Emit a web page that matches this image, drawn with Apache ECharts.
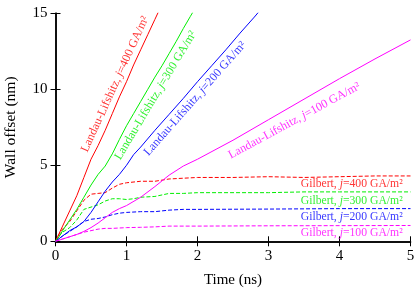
<!DOCTYPE html>
<html>
<head>
<meta charset="utf-8">
<script src="https://cdn.jsdelivr.net/npm/echarts@6/dist/echarts.min.js"></script>
<style>html,body{margin:0;padding:0;background:#fff}#c{width:415px;height:288px}</style>
</head>
<body>
<div id="c"></div>
<script>
// ---- data (time ns, wall offset nm) ----
const xTicks = [0, 1, 2, 3, 4, 5];
const yTicks = [0, 5, 10, 15];
const currents = [400, 300, 200, 100];

const llJ400 = [[0,0],[0.05,0.5],[0.1,1.0],[0.2,2.0],[0.3,3.0],[0.4,4.2],[0.5,5.4],[0.6,6.3],[0.7,7.3],[0.8,8.4],[0.9,9.5],[1.0,10.5],[1.1,11.6],[1.2,12.6],[1.3,13.6],[1.4,14.6],[1.46,15.2]];
const llJ300 = [[0,0],[0.05,0.3],[0.1,0.7],[0.2,1.4],[0.3,2.1],[0.4,2.9],[0.5,3.7],[0.6,4.4],[0.7,4.95],[0.8,5.75],[0.9,6.7],[1.0,7.6],[1.1,8.4],[1.2,9.2],[1.3,10.0],[1.4,10.8],[1.5,11.55],[1.6,12.35],[1.7,13.15],[1.8,14.0],[1.9,14.8],[1.95,15.2]];
const llJ200 = [[0,0],[0.1,0.35],[0.2,0.7],[0.3,0.95],[0.4,1.3],[0.5,1.9],[0.6,2.6],[0.7,3.3],[0.8,3.9],[0.9,4.4],[1.0,5.0],[1.1,5.7],[1.2,6.2],[1.4,7.3],[1.6,8.35],[1.8,9.4],[2.0,10.5],[2.2,11.55],[2.4,12.6],[2.6,13.7],[2.8,14.75],[2.9,15.3]];
const llJ100 = [[0,0],[0.1,0.15],[0.2,0.3],[0.3,0.45],[0.4,0.65],[0.5,0.9],[0.6,1.2],[0.7,1.55],[0.8,1.9],[0.9,2.15],[1.0,2.35],[1.2,2.9],[1.4,3.6],[1.6,4.35],[1.8,4.95],[2.0,5.4],[2.5,6.65],[3.0,8.0],[3.5,9.35],[4.0,10.7],[4.5,12.0],[5.0,13.25]];

const gJ400 = [[0,0],[0.05,0.45],[0.1,0.8],[0.2,1.3],[0.3,2.0],[0.4,2.7],[0.5,3.1],[0.6,3.15],[0.7,3.2],[0.8,3.5],[0.9,3.75],[1.0,3.85],[1.2,3.95],[1.4,3.95],[1.6,4.1],[1.8,4.15],[2.0,4.2],[2.5,4.2],[3.0,4.25],[3.5,4.2],[4.0,4.25],[4.5,4.3],[5.0,4.3]];
const gJ300 = [[0,0],[0.05,0.35],[0.1,0.6],[0.2,0.9],[0.3,1.4],[0.4,2.1],[0.5,2.25],[0.6,2.4],[0.7,2.65],[0.8,2.8],[0.9,2.8],[1.0,2.75],[1.1,2.8],[1.2,2.9],[1.4,2.95],[1.6,3.15],[1.8,3.15],[2.0,3.2],[2.5,3.2],[3.0,3.2],[3.5,3.25],[4.0,3.25],[4.5,3.25],[5.0,3.25]];
const gJ200 = [[0,0],[0.1,0.35],[0.2,0.65],[0.3,0.95],[0.4,1.3],[0.5,1.45],[0.6,1.5],[0.7,1.6],[0.8,1.75],[0.9,1.85],[1.0,1.9],[1.2,1.95],[1.4,1.95],[1.6,2.05],[1.8,2.1],[2.0,2.1],[3.0,2.12],[4.0,2.15],[5.0,2.15]];
const gJ100 = [[0,0],[0.1,0.15],[0.2,0.3],[0.3,0.45],[0.4,0.6],[0.5,0.7],[0.6,0.8],[0.7,0.85],[0.8,0.85],[1.0,0.9],[1.2,0.92],[1.4,0.95],[1.6,1.0],[2.0,1.0],[3.0,1.02],[4.0,1.03],[5.0,1.04]];

// ---- styling / label placement (not data) ----
const colors = ['#ff0000', '#00ee00', '#0000ff', '#ff00ff'];
const llLabelAt = [[0.84,10.34,65.5],[1.41,9.6,59],[1.965,9.38,48.6],[3.364,7.93,28.5]];
const gLabelAt = [[4.89,3.77],[4.89,2.65],[4.89,1.6],[4.89,0.55]];

const FONT = '"Liberation Serif","Times New Roman",serif';
const llData = [llJ400, llJ300, llJ200, llJ100];
const gData = [gJ400, gJ300, gJ200, gJ100];

function rich(color, size) {
  return {
    a: {color: color, fontFamily: FONT, fontSize: size},
    i: {color: color, fontFamily: FONT, fontSize: size, fontStyle: 'italic'}
  };
}

const series = [];
currents.forEach((j, k) => {
  series.push({type:'line', data: llData[k], showSymbol:false, symbol:'none', smooth:false,
    lineStyle:{color: colors[k], width:1}, animation:false, z:3});
  series.push({type:'line', data: gData[k], showSymbol:false, symbol:'none', smooth:false,
    lineStyle:{color: colors[k], width:1, type:[4,2]}, animation:false, z:3});
});
currents.forEach((j, k) => {
  const p = llLabelAt[k];
  series.push({type:'scatter', symbolSize:0, animation:false, silent:true,
    data:[[p[0], p[1]]],
    label:{show:true, position:'inside', rotate:p[2], distance:0,
      formatter:'{a|Landau-Lifshitz, }{i|j}{a|=' + j + ' GA/m²}',
      rich: rich(colors[k], 12)}});
  const g = gLabelAt[k];
  series.push({type:'scatter', symbolSize:0, animation:false, silent:true,
    data:[[g[0], g[1]]],
    label:{show:true, position:'left', distance:0, align:'right', verticalAlign:'middle',
      formatter:'{a|Gilbert, }{i|j}{a|=' + j + ' GA/m²}',
      rich: rich(colors[k], 11.7)}});
});

const axisCommon = {
  axisLine:{show:true, lineStyle:{color:'#000', width:1.5}},
  axisTick:{show:true, inside:true, length:5, lineStyle:{color:'#000', width:1}},
  splitLine:{show:false}
};

const chart = echarts.init(document.getElementById('c'), null, {renderer:'canvas'});
chart.setOption({
  backgroundColor:'#fff',
  animation:false,
  grid:{left:55.5, right:4.5, top:13.3, bottom:46.7, containLabel:false, outerBoundsMode:'none'},
  xAxis:[
    Object.assign({type:'value', min:xTicks[0], max:xTicks[xTicks.length-1], interval:1,
      name:'Time (ns)', nameLocation:'middle', nameGap:31,
      nameTextStyle:{fontFamily:FONT, fontSize:15, color:'#000'},
      axisLabel:{fontFamily:FONT, fontSize:15, color:'#000', margin:7}}, axisCommon),
    Object.assign({type:'value', position:'top', min:xTicks[0], max:xTicks[xTicks.length-1], interval:1,
      axisLabel:{show:false}}, axisCommon)
  ],
  yAxis:[
    Object.assign({type:'value', min:yTicks[0], max:yTicks[yTicks.length-1], interval:5,
      name:'Wall offset (nm)', nameLocation:'middle', nameGap:37, nameRotate:90,
      nameTextStyle:{fontFamily:FONT, fontSize:15.5, color:'#000'},
      axisLabel:{fontFamily:FONT, fontSize:15, color:'#000', margin:8}}, axisCommon),
    Object.assign({type:'value', position:'right', min:yTicks[0], max:yTicks[yTicks.length-1], interval:5,
      axisLabel:{show:false}}, axisCommon)
  ],
  series: series
});
</script>
</body>
</html>
